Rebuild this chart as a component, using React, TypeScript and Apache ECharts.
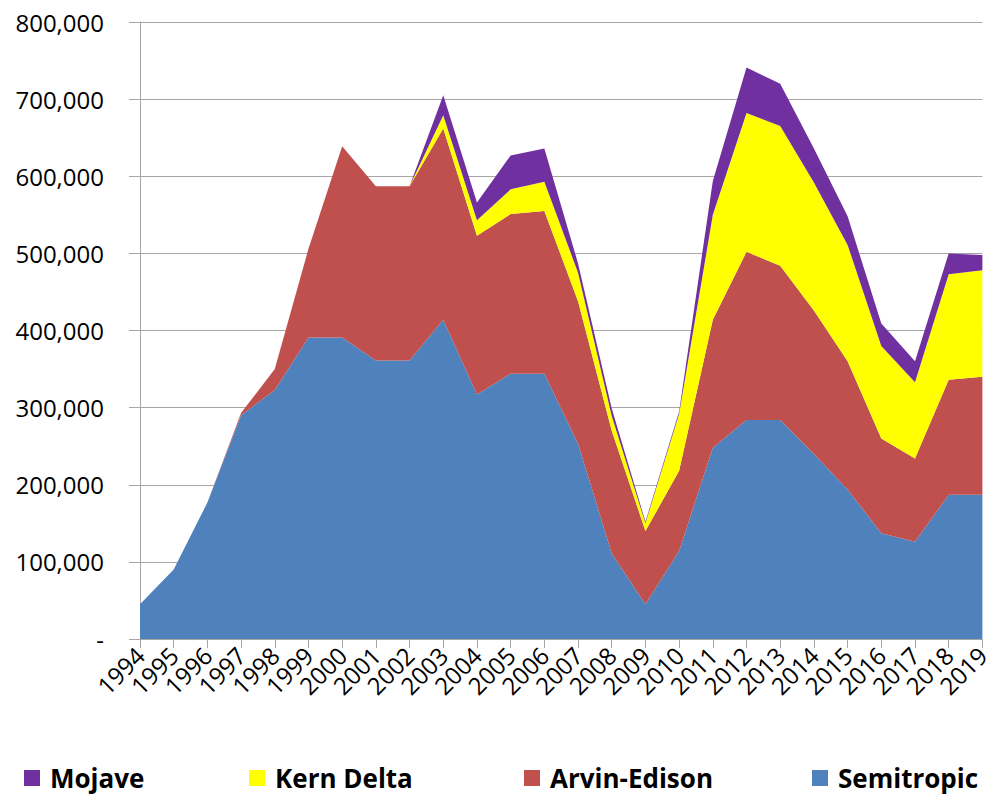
import React, { useEffect, useRef } from "react";
import * as echarts from "echarts";

const years = [
  "1994", "1995", "1996", "1997", "1998", "1999", "2000", "2001", "2002", "2003",
  "2004", "2005", "2006", "2007", "2008", "2009", "2010", "2011", "2012", "2013",
  "2014", "2015", "2016", "2017", "2018", "2019",
];

const semitropic = [45000, 90000, 177000, 290000, 323000, 391000, 391000, 361000, 361000, 414000, 317000, 344000, 344000, 253000, 111000, 45000, 114000, 248000, 284000, 284000, 240000, 194000, 137000, 126000, 187000, 187000];
const arvinEdison = [0, 0, 0, 3000, 27000, 115000, 248000, 226000, 226000, 248000, 206000, 207000, 211000, 185000, 159000, 95000, 104000, 166000, 218000, 200000, 186000, 166000, 123000, 108000, 149000, 153000];
const kernDelta = [0, 0, 0, 0, 0, 0, 0, 0, 0, 17000, 20000, 32000, 38000, 37000, 19000, 10000, 74000, 136000, 180000, 181000, 166000, 151000, 120000, 99000, 137000, 138000];
const mojave = [0, 0, 0, 0, 0, 0, 0, 0, 0, 26000, 23000, 44000, 43000, 12000, 10000, 2000, 3000, 44000, 59000, 55000, 44000, 37000, 29000, 27000, 27000, 20000];

const seriesNames = ["Semitropic", "Arvin-Edison", "Kern Delta", "Mojave"];
const seriesData = [semitropic, arvinEdison, kernDelta, mojave];
const colors = ["#4f81bd", "#c0504d", "#ffff00", "#7030a0"];

const legendOrder = ["Mojave", "Kern Delta", "Arvin-Edison", "Semitropic"];
const legendLeft = [24, 249, 524, 812];

const FONT = "'Open Sans', 'DejaVu Sans', sans-serif";

export default function App() {
  const ref = useRef<HTMLDivElement>(null);
  useEffect(() => {
    if (!ref.current) return;
    const chart = echarts.init(ref.current, null, { renderer: "svg" });
    chart.setOption({
      animation: false,
      backgroundColor: "#ffffff",
      grid: { left: 140, right: 6, top: 22, bottom: 159, containLabel: false },
      legend: legendOrder.map((name, i) => ({
        data: [name],
        left: legendLeft[i],
        top: 763,
        padding: 0,
        icon: "rect",
        itemWidth: 16,
        itemHeight: 16,
        selectedMode: false,
        textStyle: { fontFamily: FONT, fontWeight: "bold", fontSize: 26, lineHeight: 30, color: "#000", padding: [0, 0, 0, 5] },
      })),
      xAxis: {
        type: "category",
        data: years,
        boundaryGap: false,
        axisLine: { lineStyle: { color: "#a6a6a6", width: 1 } },
        axisTick: { show: true, alignWithLabel: true, length: 9, lineStyle: { color: "#a6a6a6" } },
        axisLabel: {
          rotate: 45,
          interval: 0,
          margin: 12,
          fontFamily: FONT,
          fontSize: 24,
          color: "#000",
        },
        splitLine: { show: false },
      },
      yAxis: {
        type: "value",
        min: 0,
        max: 800000,
        interval: 100000,
        axisLine: { show: true, lineStyle: { color: "#a6a6a6", width: 1 } },
        axisTick: { show: true, length: 11, lineStyle: { color: "#a6a6a6" } },
        axisLabel: {
          margin: 36,
          fontFamily: FONT,
          fontSize: 24,
          color: "#000",
          formatter: (v: number) => (v === 0 ? "-" : v.toLocaleString("en-US")),
        },
        splitLine: { show: true, lineStyle: { color: "#a6a6a6", width: 1 } },
      },
      series: seriesNames.map((name, i) => ({
        name,
        type: "line",
        stack: "total",
        data: seriesData[i],
        symbol: "none",
        color: colors[i],
        lineStyle: { width: 0 },
        areaStyle: { color: colors[i], opacity: 1 },
        z: 2,
      })),
    });
    return () => chart.dispose();
  }, []);
  return <div ref={ref} style={{ width: 993, height: 798, position: "absolute", left: 0, top: 0 }} />;
}
